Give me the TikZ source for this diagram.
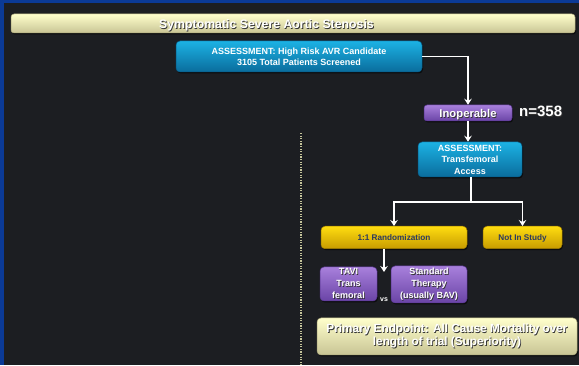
\documentclass[tikz,border=0pt]{standalone}
\usepackage{fontspec}
\setmainfont{Liberation Sans}
\usetikzlibrary{arrows.meta,shadows}

\definecolor{slidebg}{HTML}{1C1E22}
\definecolor{slideblue}{HTML}{0B3A96}
\definecolor{goldtext}{HTML}{2C3A5E}
\definecolor{divline}{HTML}{C4C49A}

\newcommand\shtxt[1]{\rlap{\kern.8pt\raisebox{-.8pt}{\color{black!80}#1}}#1}
\newcommand\fsz[2]{\fontsize{#1}{#2}\selectfont\bfseries}

\tikzset{%
  every box/.style={
    rounded corners=4pt,
    inner sep=1pt,
    align=center,
    line width=.5pt,
    drop shadow={shadow xshift=1pt, shadow yshift=-1.5pt, opacity=.6, fill=black}
  },
  box cream/.style={
    top color=white!50!yellow!40, bottom color={rgb,255:red,200;green,196;blue,148},
    draw={rgb,255:red,168;green,164;blue,120}, text=white
  },
  box blue/.style={
    top color={rgb,255:red,28;green,178;blue,228}, bottom color={rgb,255:red,10;green,108;blue,156},
    draw={rgb,255:red,7;green,90;blue,133}, text=white
  },
  box purple/.style={
    top color={rgb,255:red,168;green,128;blue,220}, bottom color={rgb,255:red,106;green,68;blue,166},
    draw={rgb,255:red,87;green,53;blue,144}, text=white
  },
  box gold/.style={
    top color={rgb,255:red,255;green,221;blue,16}, bottom color={rgb,255:red,199;green,155;blue,0},
    draw={rgb,255:red,160;green,124;blue,0}, text=goldtext
  },
  flow/.style={draw=white, line width=1.3pt},
}

\begin{document}
\begin{tikzpicture}[x=1pt, y=-1pt, >={Stealth[length=6pt,width=7.5pt,inset=2pt]}]

% slide background and frame
\fill[slidebg] (0,0) rectangle (579,365);
\fill[slideblue] (0,0) rectangle (579,3);
\fill[slideblue] (0,0) rectangle (4,365);

% divider
\draw[divline, line width=1.2pt, dash pattern=on 1.3pt off 1.3pt] (301,133) -- (301,365);

\node [every box/.try, box cream/.try, rounded corners=3pt, minimum width=564pt, minimum height=19pt,
  text height=9.5pt, text depth=0pt,
  font=\fsz{12.3}{14}] (title) at (293,23.5) {\hspace*{-53pt}\shtxt{Symptomatic Severe Aortic Stenosis}};

\node [every box/.try, box blue/.try, minimum width=246pt, minimum height=31pt,
  font=\fsz{9}{11}] (screen) at (299,56.5)
  {ASSESSMENT: High Risk AVR Candidate\\3105 Total Patients Screened};

\node [every box/.try, box purple/.try, rounded corners=3pt, minimum width=88pt, minimum height=16pt,
  text height=9pt, text depth=.5pt,
  font=\fsz{11.3}{13}] (inop) at (468,113) {\shtxt{Inoperable}};
\node [anchor=west, text=white, font=\fsz{15}{16}, inner sep=0pt] (count) at (519,112) {\shtxt{n=358}};

\node [every box/.try, box blue/.try, minimum width=104pt, minimum height=35pt,
  font=\fsz{9}{11.5}] (access) at (470,159.5) {ASSESSMENT:\\Transfemoral\\Access};

\foreach \n/\x/\w/\t in {rand/394/146/1:1 Randomization, notin/522.5/79/Not In Study}
  \node [every box/.try, box gold/.try, minimum width=\w pt, minimum height=22.5pt,
    text height=6.5pt, text depth=.5pt,
    font=\fsz{8.2}{10}] (\n) at (\x,237.5) {\t};

\node [every box/.try, box purple/.try, minimum width=57pt, minimum height=34pt,
  font=\fsz{9}{12}] (tavi) at (348.5,284) {\shtxt{TAVI}\\\shtxt{Trans}\\\shtxt{femoral}};
\node [every box/.try, box purple/.try, minimum width=76pt, minimum height=37pt,
  font=\fsz{9}{12}] (std) at (429,284.5) {\shtxt{Standard}\\\shtxt{Therapy}\\\shtxt{(usually BAV)}};
\node [text=white, font=\fsz{7}{8}, inner sep=0pt] (vs) at (384,300) {vs};

\node [every box/.try, box cream/.try, minimum width=260pt, minimum height=37pt,
  font=\fsz{11.8}{13}] (endpt) at (447,336.5)
  {\shtxt{Primary Endpoint: All Cause Mortality over}\\\shtxt{length of trial (Superiority)}};

% connectors
\coordinate (split) at (471,202);
\coordinate (tip) at (384,272);

\draw [flow, ->] (screen.east) -| (inop.north);
\draw [flow, ->] (inop.south) -- (inop.south |- access.north);
\draw [flow] (access.south -| split) -- (split);
\foreach \t in {rand,notin}
  \draw [flow, ->] (split) -| (\t.north);
\draw [flow, ->] (tip |- rand.south) -- (tip);

\end{tikzpicture}
\end{document}
